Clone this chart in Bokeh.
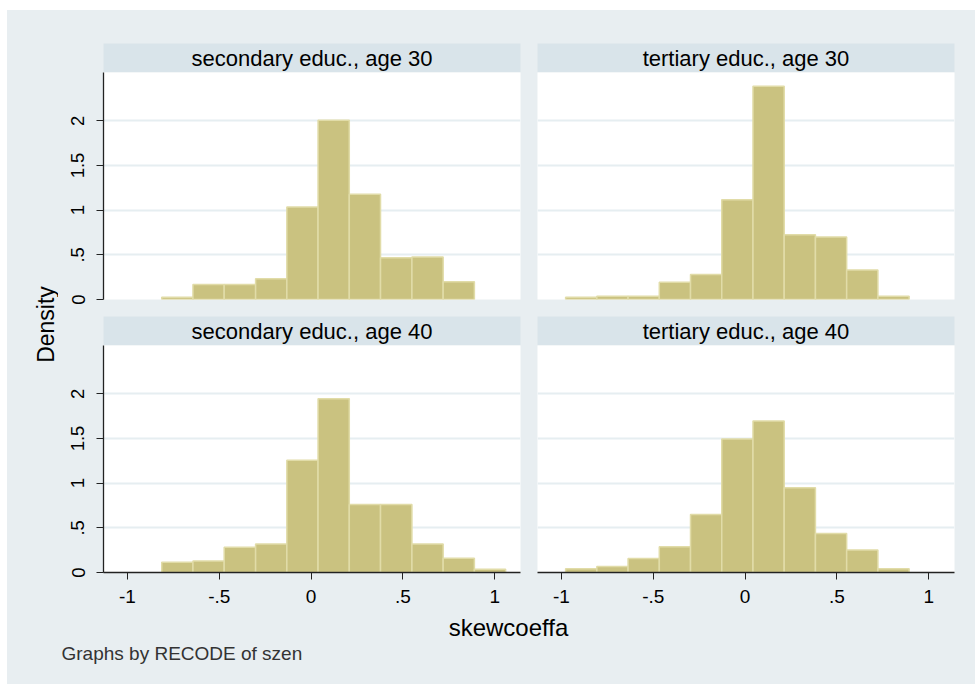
import math
from bokeh.plotting import figure
from bokeh.layouts import column, row
from bokeh.models import Range1d, FixedTicker
from bokeh.core.properties import value
from bokeh.embed import file_html
from bokeh.resources import INLINE

# ---------------- data ----------------
sec_edges = [-0.813, -0.643, -0.473, -0.302, -0.132, 0.038, 0.208, 0.378, 0.549, 0.719, 0.889, 1.059]
ter_edges = [-0.977, -0.807, -0.637, -0.467, -0.297, -0.127, 0.043, 0.213, 0.383, 0.553, 0.723, 0.893]

sec_age30 = [0.026, 0.168, 0.168, 0.232, 1.035, 2.007, 1.178, 0.467, 0.475, 0.198]
ter_age30 = [0.026, 0.037, 0.037, 0.193, 0.279, 1.115, 2.387, 0.725, 0.699, 0.331, 0.037]
sec_age40 = [0.115, 0.130, 0.283, 0.320, 1.257, 1.944, 0.762, 0.762, 0.320, 0.160, 0.037]
ter_age40 = [0.041, 0.067, 0.156, 0.289, 0.648, 1.493, 1.696, 0.948, 0.437, 0.252, 0.041]

panel_titles = ["secondary educ., age 30", "tertiary educ., age 30",
                "secondary educ., age 40", "tertiary educ., age 40"]

x_ticks = [-1, -0.5, 0, 0.5, 1]
x_tick_labels = ["-1", "-.5", "0", ".5", "1"]
y_ticks = [0, 0.5, 1, 1.5, 2]
y_tick_labels = ["0", ".5", "1", "1.5", "2"]
y_title = "Density"
x_title = "skewcoeffa"
note = "Graphs by RECODE of szen"

# ---------------- styles ----------------
FONT_NAME = "Liberation Sans"
FONT = value(FONT_NAME)
BG = "#e8eef1"
STRIP = "#d9e4ea"
GRID = "#e6eef1"
BAR_FILL = "#cac280"
BAR_LINE = "#e1dca8"
X_RANGE = (-1.13, 1.14)
Y_RANGE = (0, 2.54)

FRAME_H = 227
HEAD_H = 29


def blank_fig(w, h, color):
    f = figure(width=w, height=h, x_range=Range1d(0, w), y_range=Range1d(0, h),
               output_backend="svg", toolbar_location=None, min_border=0,
               x_axis_location=None, y_axis_location=None)
    f.grid.visible = False
    f.outline_line_color = None
    f.background_fill_color = color
    f.border_fill_color = color
    return f


def header_fig(title, w, bl, br, bt):
    f = figure(width=w, height=HEAD_H + bt, x_range=Range1d(0, 1), y_range=Range1d(0, 1),
               output_backend="svg", toolbar_location=None, min_border=0,
               min_border_left=bl, min_border_right=br, min_border_top=bt, min_border_bottom=0,
               x_axis_location=None, y_axis_location=None)
    f.grid.visible = False
    f.outline_line_color = None
    f.background_fill_color = STRIP
    f.border_fill_color = BG
    f.text(x=[0.5], y=[0.5], text=[title], text_font=FONT, text_font_size="22px",
           text_align="center", text_baseline="middle", text_color="#000000")
    return f


def style_axis(ax, ticks, labels, standoff, size):
    ax.ticker = FixedTicker(ticks=ticks)
    ax.major_label_overrides = dict(zip(ticks, labels))
    ax.major_label_text_font = FONT_NAME
    ax.major_label_text_font_size = size
    ax.major_label_text_color = "#000000"
    ax.major_label_standoff = standoff
    ax.major_tick_out = 7
    ax.major_tick_in = 0
    ax.minor_tick_out = 0
    ax.minor_tick_in = 0
    ax.axis_line_color = "#222222"
    ax.major_tick_line_color = "#222222"
    ax.axis_line_width = 1.3


def panel_fig(edges, dens, w, bl, br, bb, show_y, show_x):
    f = figure(width=w, height=FRAME_H + bb,
               x_range=Range1d(*X_RANGE), y_range=Range1d(*Y_RANGE),
               output_backend="svg", toolbar_location=None, min_border=0,
               min_border_left=bl, min_border_right=br, min_border_top=0, min_border_bottom=bb,
               x_axis_location="below" if show_x else None,
               y_axis_location="left" if show_y else None)
    f.outline_line_color = None
    f.background_fill_color = "#ffffff"
    f.border_fill_color = BG
    f.xgrid.visible = False
    f.ygrid.ticker = FixedTicker(ticks=[t for t in y_ticks if t > 0])
    f.ygrid.grid_line_color = GRID
    f.ygrid.grid_line_width = 2
    n = len(dens)
    f.quad(left=edges[:n], right=edges[1:n + 1], top=dens, bottom=[0] * n,
           fill_color=BAR_FILL, line_color=BAR_LINE, line_width=1.5)
    if show_y:
        ax = f.yaxis[0]
        style_axis(ax, y_ticks, y_tick_labels, 12, "18.5px")
        ax.major_label_orientation = "vertical"
    if show_x:
        style_axis(f.xaxis[0], x_ticks, x_tick_labels, 10, "19px")
    return f


LW, LBL, LBR = 470, 45, 8      # left column figure width and borders
RW, RBL, RBR = 447, 9, 21      # right column figure width and borders
TOP_B = 33
BOT_B = 42

h1 = header_fig(panel_titles[0], LW, LBL, LBR, TOP_B)
h2 = header_fig(panel_titles[1], RW, RBL, RBR, TOP_B)
p1 = panel_fig(sec_edges, sec_age30, LW, LBL, LBR, 9, True, False)
p2 = panel_fig(ter_edges, ter_age30, RW, RBL, RBR, 9, False, False)
h3 = header_fig(panel_titles[2], LW, LBL, LBR, 8)
h4 = header_fig(panel_titles[3], RW, RBL, RBR, 8)
p3 = panel_fig(sec_edges, sec_age40, LW, LBL, LBR, BOT_B, True, True)
p4 = panel_fig(ter_edges, ter_age40, RW, RBL, RBR, BOT_B, False, True)

left_col = column(h1, p1, h3, p3, spacing=0, styles={"background-color": BG})
right_col = column(h2, p2, h4, p4, spacing=0, styles={"background-color": BG})
grid_h = (HEAD_H + TOP_B) + (FRAME_H + 9) + (HEAD_H + 8) + (FRAME_H + BOT_B)

DW = 51
dens = blank_fig(DW, grid_h, BG)
dens.text(x=[38], y=[grid_h - 314], text=[y_title], angle=math.pi / 2, text_font=FONT,
          text_font_size="23px", text_align="center", text_baseline="middle", text_color="#000000")

MAIN_W = DW + LW + RW
BOT_H = 674 - grid_h
bottom = blank_fig(MAIN_W, BOT_H, BG)
bottom.text(x=[501], y=[BOT_H - 13], text=[x_title], text_font=FONT, text_font_size="24px",
            text_align="center", text_baseline="middle", text_color="#000000")
bottom.text(x=[54], y=[BOT_H - 39], text=[note], text_font=FONT, text_font_size="19px",
            text_align="left", text_baseline="middle", text_color="#333333")

main = column(row(dens, left_col, right_col, spacing=0, styles={"background-color": BG}),
              bottom, spacing=0, styles={"background-color": BG})

top_white = blank_fig(7 + MAIN_W, 10, "#ffffff")
left_white = blank_fig(7, grid_h + BOT_H, "#ffffff")

layout = column(top_white, row(left_white, main, spacing=0), spacing=0)

open("out.html", "w").write(file_html(layout, INLINE))
